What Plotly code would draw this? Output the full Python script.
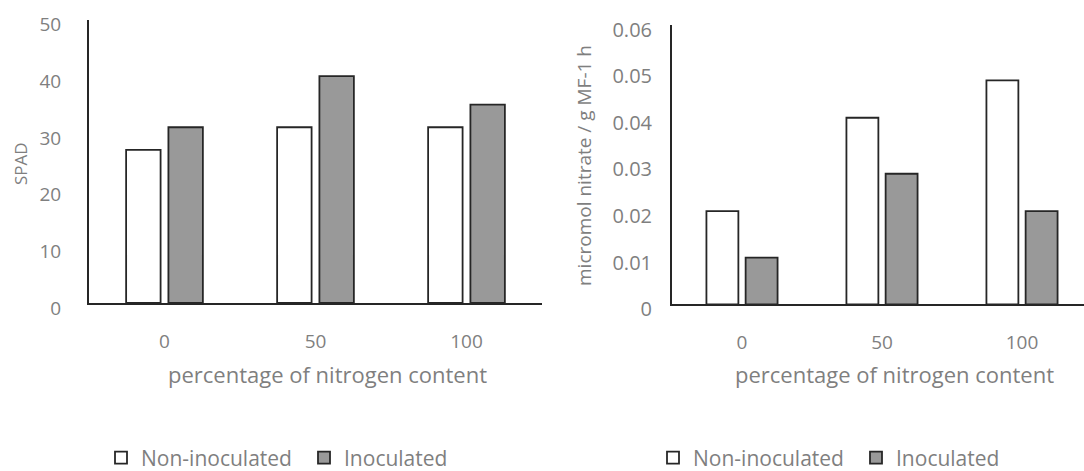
import plotly.graph_objects as go

categories = ["0", "50", "100"]
spad_non_inoculated = [27, 31, 31]
spad_inoculated = [31, 40, 35]
nitrate_non_inoculated = [0.02, 0.04, 0.048]
nitrate_inoculated = [0.01, 0.028, 0.02]
spad_ticks = [0, 10, 20, 30, 40, 50]
nitrate_ticks = [0, 0.01, 0.02, 0.03, 0.04, 0.05, 0.06]
nitrate_tick_labels = ["0", "0.01", "0.02", "0.03", "0.04", "0.05", "0.06"]
series_names = ["Non-inoculated", "Inoculated"]
x_title = "percentage of nitrogen content"

FONT = "Open Sans, DejaVu Sans, sans-serif"
GRAY_TXT = "#7f7f7f"
EDGE = "#262626"
FILL_NON = "#ffffff"
FILL_INO = "#999999"

fig = go.Figure()

fig.add_trace(go.Bar(x=categories, y=spad_non_inoculated, name=series_names[0],
                     marker=dict(color=FILL_NON, line=dict(color=EDGE, width=1.8)),
                     xaxis="x", yaxis="y", legend="legend"))
fig.add_trace(go.Bar(x=categories, y=spad_inoculated, name=series_names[1],
                     marker=dict(color=FILL_INO, line=dict(color=EDGE, width=1.8)),
                     xaxis="x", yaxis="y", legend="legend"))
fig.add_trace(go.Bar(x=categories, y=nitrate_non_inoculated, name=series_names[0],
                     marker=dict(color=FILL_NON, line=dict(color=EDGE, width=1.8)),
                     xaxis="x2", yaxis="y2", legend="legend2"))
fig.add_trace(go.Bar(x=categories, y=nitrate_inoculated, name=series_names[1],
                     marker=dict(color=FILL_INO, line=dict(color=EDGE, width=1.8)),
                     xaxis="x2", yaxis="y2", legend="legend2"))

H = 471.0
W = 1084.0

common_x = dict(type="category", showline=True, linecolor=EDGE, linewidth=2,
                showgrid=False, zeroline=False, ticks="", automargin=False,
                tickfont=dict(family=FONT, size=19, color=GRAY_TXT),
                ticklabelstandoff=20, fixedrange=True)
common_y = dict(showline=True, linecolor=EDGE, linewidth=2, showgrid=False,
                zeroline=False, ticks="", automargin=False, fixedrange=True)

legend_common = dict(orientation="h", y=(H - 458) / H, yanchor="middle", xanchor="left",
                     font=dict(family=FONT, size=21, color=GRAY_TXT), itemwidth=30,
                     entrywidth=158, entrywidthmode="pixels",
                     bgcolor="rgba(0,0,0,0)", traceorder="normal")

fig.update_layout(
    width=1084, height=471,
    margin=dict(l=0, r=0, t=0, b=0, autoexpand=False),
    paper_bgcolor="white", plot_bgcolor="white",
    barmode="group", bargap=0.44, bargroupgap=0.185,
    font=dict(family=FONT, color=GRAY_TXT),
    xaxis=dict(domain=[89 / W, 542 / W], range=[-0.5, 2.5], anchor="y", **common_x),
    yaxis=dict(domain=[(H - 303) / H, (H - 19.5) / H], range=[0, 50], anchor="x",
               tickvals=spad_ticks,
               tickfont=dict(family=FONT, size=19, color=GRAY_TXT),
               ticklabelstandoff=22, ticklabelshift=5, **common_y),
    xaxis2=dict(domain=[672 / W, 1.0], range=[-0.5, 2.5 - 8 / 140], anchor="y2", **common_x),
    yaxis2=dict(domain=[(H - 304.3) / H, (H - 24.5) / H], range=[0, 0.06], anchor="x2",
                tickvals=nitrate_ticks, ticktext=nitrate_tick_labels,
                tickfont=dict(family=FONT, size=20, color=GRAY_TXT),
                ticklabelstandoff=14, ticklabelshift=5, **common_y),
    legend=dict(x=101 / W, **legend_common),
    legend2=dict(x=653 / W, **legend_common),
    showlegend=True,
)

fig.add_annotation(text=x_title, x=327 / W, y=(H - 374) / H, xref="paper", yref="paper",
                   xanchor="center", yanchor="middle", showarrow=False,
                   font=dict(family=FONT, size=22, color=GRAY_TXT))
fig.add_annotation(text=x_title, x=894 / W, y=(H - 374) / H, xref="paper", yref="paper",
                   xanchor="center", yanchor="middle", showarrow=False,
                   font=dict(family=FONT, size=22, color=GRAY_TXT))
fig.add_annotation(text="SPAD", x=20 / W, y=(H - 164) / H, xref="paper", yref="paper",
                   xanchor="center", yanchor="middle", showarrow=False, textangle=-90,
                   font=dict(family=FONT, size=17, color=GRAY_TXT))
fig.add_annotation(text="micromol nitrate / g MF-1 h", x=584 / W, y=(H - 166) / H,
                   xref="paper", yref="paper", xanchor="center", yanchor="middle",
                   showarrow=False, textangle=-90,
                   font=dict(family=FONT, size=19, color=GRAY_TXT))

fig.write_html(
    "out.html",
    config={"displayModeBar": False, "staticPlot": True},
    post_script="document.body.style.margin='0';document.body.style.overflow='hidden';",
)
